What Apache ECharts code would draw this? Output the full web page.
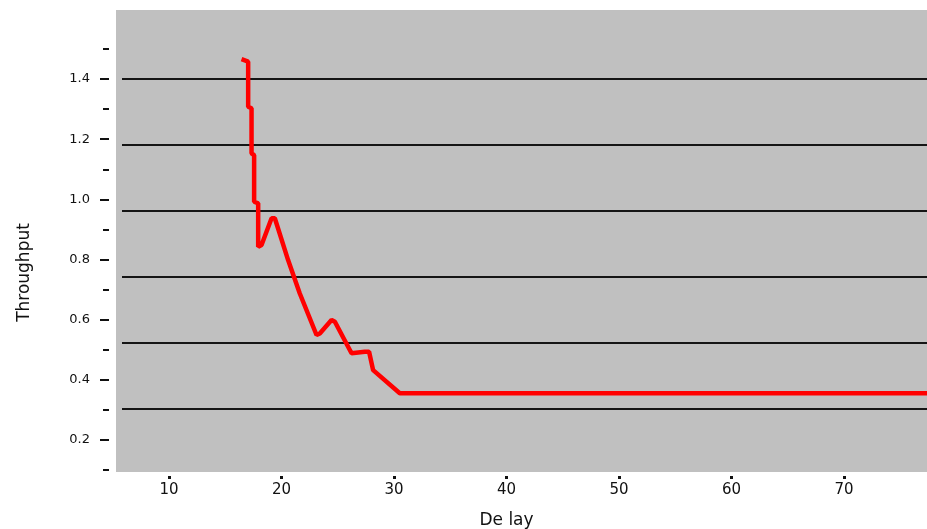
<!DOCTYPE html>
<html>
<head>
<meta charset="utf-8">
<script src="https://cdn.jsdelivr.net/npm/echarts@6/dist/echarts.min.js"></script>
<style>
  html, body { margin: 0; padding: 0; background: #fff; }
  #chart { width: 927px; height: 529px; }
</style>
</head>
<body>
<div id="chart"></div>
<script>
var chart = echarts.init(document.getElementById("chart"));

// values
var delay = [16.46, 17.05, 17.05, 17.35, 17.35, 17.58, 17.58, 17.94, 17.94, 18.24,
  19.13, 19.42, 20.6, 21.64, 23.13, 23.42, 24.46, 24.76, 26.24, 27.42, 27.8, 28.16, 30.53, 77.4];
var throughput = [1.466, 1.458, 1.308, 1.303, 1.153, 1.147, 0.992, 0.987, 0.842, 0.848,
  0.937, 0.937, 0.798, 0.687, 0.549, 0.554, 0.599, 0.593, 0.488, 0.493, 0.493, 0.432, 0.355, 0.355];

var points = [];
for (var i = 0; i < delay.length; i++) {
  points.push([delay[i], throughput[i]]);
}

var font = "DejaVu Sans";
var hidden = { show: false, onZero: false };

chart.setOption({
  animation: false,
  grid: [
    // gray plot background
    { left: 116, right: 0, top: 10, bottom: 57, show: true, backgroundColor: "#c0c0c0", borderWidth: 0, outerBoundsMode: "none" },
    // black horizontal lines
    { left: 122, right: 0, top: 13, bottom: 54, outerBoundsMode: "none" },
    // data + minor y ticks
    { left: 116, right: 0, top: 49, bottom: 59, outerBoundsMode: "none" },
    // x axis ticks
    { left: 169, right: 83, top: 10, bottom: 57, outerBoundsMode: "none" },
    // labelled y ticks 0.2 .. 1.4
    { left: 116, right: 0, top: 79, bottom: 89, outerBoundsMode: "none" }
  ],
  xAxis: [
    { gridIndex: 0, type: "value", min: 5.3, max: 77.4, show: false },
    { gridIndex: 1, type: "value", min: 0, max: 1, show: false },
    { gridIndex: 2, type: "value", min: 5.3, max: 77.4, show: false },
    {
      gridIndex: 3,
      type: "value",
      min: 10,
      max: 70,
      interval: 10,
      offset: 4,
      axisLine: hidden,
      splitLine: hidden,
      axisTick: { length: 3, lineStyle: { color: "#111", width: 3 } },
      axisLabel: { margin: 7, color: "#111", fontFamily: font, fontSize: 15 },
      name: "De lay",
      nameLocation: "middle",
      nameGap: 36,
      nameTextStyle: { color: "#111", fontFamily: font, fontSize: 17 }
    },
    { gridIndex: 4, type: "value", min: 5.3, max: 77.4, show: false }
  ],
  yAxis: [
    { gridIndex: 0, type: "value", min: 0, max: 1, show: false },
    {
      gridIndex: 1,
      type: "value",
      min: 0,
      max: 7,
      interval: 1,
      axisLine: hidden,
      axisTick: hidden,
      axisLabel: hidden,
      splitLine: { show: true, showMinLine: false, showMaxLine: false, lineStyle: { color: "#151515", width: 2 } }
    },
    {
      gridIndex: 2,
      type: "value",
      min: 0.1,
      max: 1.5,
      interval: 0.1,
      offset: 7,
      axisLine: hidden,
      splitLine: hidden,
      axisLabel: hidden,
      axisTick: { length: 6, lineStyle: { color: "#111", width: 2 } }
    },
    { gridIndex: 3, type: "value", min: 0, max: 1, show: false },
    {
      gridIndex: 4,
      type: "value",
      min: 0.2,
      max: 1.4,
      interval: 0.2,
      offset: 7,
      axisLine: hidden,
      splitLine: hidden,
      axisTick: { length: 9, lineStyle: { color: "#111", width: 2 } },
      axisLabel: {
        margin: 19,
        color: "#111",
        fontFamily: font,
        fontSize: 13,
        formatter: function (v) {
          return v.toFixed(1);
        }
      },
      name: "Throughput",
      nameLocation: "middle",
      nameGap: 76,
      nameTextStyle: { color: "#111", fontFamily: font, fontSize: 17, padding: [0, 26, 0, 0] }
    }
  ],
  series: [
    {
      type: "line",
      xAxisIndex: 2,
      yAxisIndex: 2,
      data: points,
      showSymbol: false,
      symbol: "none",
      lineStyle: { color: "#ff0000", width: 4.5 }
    }
  ]
});
</script>
</body>
</html>
